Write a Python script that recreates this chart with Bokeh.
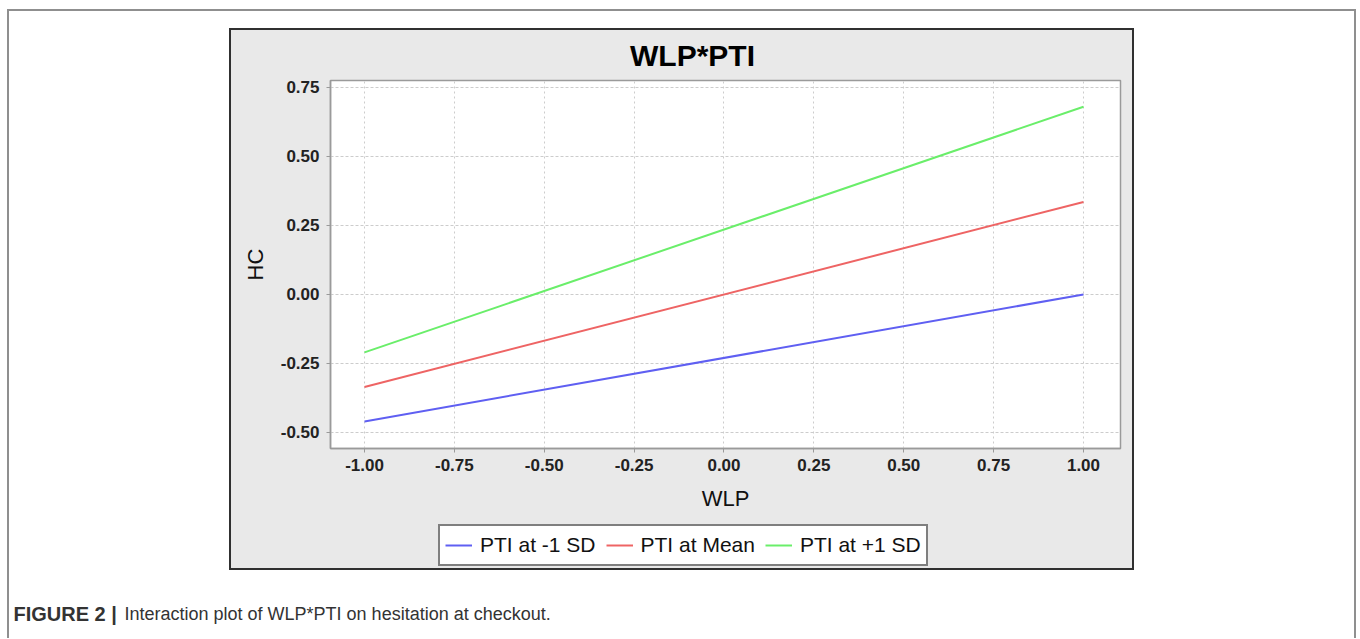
from bokeh.plotting import figure
from bokeh.layouts import column, row
from bokeh.models import (Range1d, FixedTicker, NumeralTickFormatter, Label, Legend,
                          LegendItem, Spacer)
from bokeh.embed import file_html
from bokeh.resources import INLINE

# ---- data ----
wlp = [-1.0, 1.0]
pti_low = [-0.46, 0.0]
pti_mean = [-0.335, 0.335]
pti_high = [-0.21, 0.68]
series_names = ["PTI at -1 SD", "PTI at Mean", "PTI at +1 SD"]
series_colors = ["#5f5ff2", "#ee6464", "#6aee6a"]
x_ticks = [-1.0, -0.75, -0.5, -0.25, 0.0, 0.25, 0.5, 0.75, 1.0]
y_ticks = [-0.5, -0.25, 0.0, 0.25, 0.5, 0.75]
title_text = "WLP*PTI"
x_label = "WLP"
y_label = "HC"
caption_bold = "FIGURE 2 |"
caption_text = "Interaction plot of WLP*PTI on hesitation at checkout."

FONT = "Liberation Sans"
GREY = "#e9e9e9"
BW = 901                     # grey chart box width (page x 231..1132)
TH, PH, LH = 44, 445, 49     # title strip (30..74), chart (74..519), legend strip (519..568)


def strip(height, xr, yr):
    f = figure(width=BW, height=height, output_backend="svg", toolbar_location=None,
               x_range=xr, y_range=yr, x_axis_type=None, y_axis_type=None,
               min_border_left=99, min_border_right=12,
               min_border_top=0, min_border_bottom=0)
    f.border_fill_color = GREY
    f.background_fill_color = GREY
    f.outline_line_color = None
    f.xgrid.visible = False
    f.ygrid.visible = False
    return f


# title strip: its frame is aligned with the chart frame (790 px wide)
tf = strip(TH, Range1d(0, 790), Range1d(TH, 0))
tf.add_layout(Label(x=362, y=25, text=title_text, text_font=FONT, text_font_style="bold",
                    text_font_size="30px", text_align="center", text_baseline="middle",
                    text_color="#000000"))

p = figure(width=BW, height=PH, output_backend="svg", toolbar_location=None,
           title_location=None,
           x_range=Range1d(-1.0946, 1.103), y_range=Range1d(-0.558, 0.775),
           min_border_left=99, min_border_right=12,
           min_border_top=6, min_border_bottom=71)
p.border_fill_color = GREY
p.background_fill_color = "white"
p.outline_line_color = "#9a9a9a"
p.outline_line_width = 1.5

series = [pti_low, pti_mean, pti_high]
for ys, c in zip(series, series_colors):
    p.line(wlp, ys, line_color=c, line_width=2)

for ax in (p.xaxis[0], p.yaxis[0]):
    ax.formatter = NumeralTickFormatter(format="0.00")
    ax.major_label_text_font = FONT
    ax.major_label_text_font_style = "bold"
    ax.major_label_text_font_size = "17px"
    ax.major_label_text_color = "#222222"
    ax.axis_label_text_font = FONT
    ax.axis_label_text_font_style = "normal"
    ax.axis_label_text_font_size = "22px"
    ax.axis_label_text_color = "#111111"
    ax.major_tick_in = 0
    ax.major_tick_out = 4
    ax.major_tick_line_color = "#9a9a9a"
    ax.minor_tick_line_color = None
    ax.axis_line_color = "#9a9a9a"
    ax.axis_line_width = 1.5
p.xaxis[0].ticker = FixedTicker(ticks=x_ticks)
p.yaxis[0].ticker = FixedTicker(ticks=y_ticks)
p.xaxis[0].axis_label = x_label
p.yaxis[0].axis_label = y_label
p.xaxis[0].major_label_standoff = 6
p.xaxis[0].axis_label_standoff = 12
p.yaxis[0].major_label_standoff = 7
p.yaxis[0].axis_label_standoff = 10

p.xgrid[0].grid_line_dash = "2 3"
p.ygrid[0].grid_line_dash = "3 2"
for g in (p.xgrid[0], p.ygrid[0]):
    g.grid_line_color = "#cccccc"
    g.grid_line_width = 1

# legend strip (continues the grey box below the axis title); its series lie out of view
lf = strip(LH, Range1d(10, 11), Range1d(10, 11))
keys = [lf.line(wlp, ys, line_color=c, line_width=2) for ys, c in zip(series, series_colors)]
legend = Legend(items=[LegendItem(label=n, renderers=[r]) for n, r in zip(series_names, keys)],
                orientation="horizontal", location=(108, 2),
                border_line_color="#000000", border_line_width=2,
                background_fill_color="white", background_fill_alpha=1,
                label_text_font=FONT, label_text_font_size="21px", label_text_color="#111111",
                glyph_width=27, glyph_height=28, label_height=28, label_standoff=8,
                spacing=10, padding=5, margin=0)
lf.add_layout(legend, "center")

grey_box = column(tf, p, lf, styles={"outline": "2px solid #303030", "background": GREY})

# caption strip
cap = figure(width=1340, height=70, output_backend="svg", toolbar_location=None,
             x_range=Range1d(0, 1340), y_range=Range1d(70, 0),
             x_axis_type=None, y_axis_type=None,
             min_border=0, min_border_left=0, min_border_right=0,
             min_border_top=0, min_border_bottom=0)
cap.border_fill_alpha = 0
cap.background_fill_alpha = 0
cap.outline_line_color = None
cap.xgrid.visible = False
cap.ygrid.visible = False
cap.add_layout(Label(x=2, y=45, text=caption_bold, text_font=FONT, text_font_style="bold",
                     text_font_size="20px", text_baseline="middle", text_color="#333333"))
cap.add_layout(Label(x=113, y=45, text=caption_text, text_font=FONT,
                     text_font_size="18px", text_baseline="middle", text_color="#333333"))

framed = column(
    Spacer(width=1349, height=21),
    row(Spacer(width=224, height=TH + PH + LH), grey_box),
    row(Spacer(width=4, height=70), cap),
    styles={"box-shadow": "inset 2px 2px 0 0 #8f8f8f, inset -2px 0 0 0 #8f8f8f"},
)

page = column(Spacer(width=1356, height=9), row(Spacer(width=7, height=629), framed))

open("out.html", "w").write(file_html(page, INLINE))
